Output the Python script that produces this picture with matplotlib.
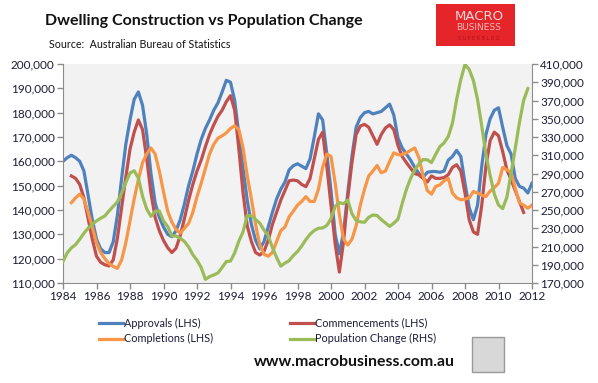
import matplotlib
matplotlib.use("Agg")
import matplotlib.pyplot as plt
import matplotlib.ticker as mticker
from matplotlib.patches import Rectangle
import numpy as np

nan = np.nan

# quarterly observations, 1984 Q1 .. 2012 Q1
start_year = 1984.0
step = 0.25

approvals = [
    160, 161.5, 162.5, 161.5, 160, 156, 146, 136, 128, 124, 122.5, 122.5, 127, 138, 153, 167, 177, 185.5, 188.5,
    183, 171, 155, 143, 137, 133, 130, 129, 131.5, 136, 142.5, 150, 156, 163, 169, 173.5, 177, 181, 184,
    188.5, 193.3, 192.5, 185, 171, 157, 144, 134, 127.5, 124, 127, 133, 139, 144.5, 148.5, 151.5, 156.5, 158.2, 159,
    158, 157, 161, 170, 179.5, 177, 163, 148, 130, 122, 131, 147, 162, 174, 178, 180, 180.5, 179.5, 180,
    180.5, 182, 183.5, 179, 169.5, 165.5, 163, 160.5, 157.5, 155, 153.5, 155.5, 155.8, 155.8, 155.5, 156, 160.5, 162,
    164.5, 162, 151, 141, 136, 142, 158, 171, 177.5, 181, 182, 174, 166.5, 163, 153, 149.7, 149, 147, 151,
]
commencements = [
    nan, nan,
    154, 153, 150.5, 145, 136.5, 128, 121, 118.5, 117.5, 117, 119.5, 128.5, 141, 153.5, 165, 172, 177,
    173, 161, 147, 137, 131.5, 127.5, 124.5, 122.5, 124.3, 129.5, 136.5, 144, 150.5, 156, 160.5, 166, 171, 175, 178.5,
    181, 184.5, 187, 181, 165, 147, 133.5, 127, 122.5, 121.5, 123, 127.5, 134, 139, 144, 148, 152, 152.3, 152,
    150.5, 149.6, 153, 161, 169, 172, 158, 142, 126, 114.5, 127, 145, 159.5, 171, 174.5, 175.2, 174, 170.5, 167,
    171, 173.7, 175, 173, 166.5, 162, 159.5, 157.2, 155, 154.4, 153, 151.5, 154, 153, 153, 153.3, 154.5, 157.5,
    158.6, 156, 147, 136, 131, 130, 142, 158, 168.5, 172, 170.5, 164, 156.5, 152.5, 148, 143.5, 139,
    nan, nan,
]
completions = [
    nan, nan,
    143, 145, 146.5, 144.5, 139, 133, 126.5, 122.5, 120, 118, 116.8, 116, 119.5, 126.5, 135.5, 144.5, 152.5,
    159.5, 163, 165.5, 163, 156, 147.5, 139.5, 135, 132, 130.5, 132.5, 134.5, 139, 145.5, 151, 157, 163, 167, 169.5,
    170.5, 171.7, 173.5, 174.6, 173, 165.5, 154, 144.5, 134, 125.5, 121.8, 121, 122.5, 127, 131.5, 133, 137.2, 139.5, 142,
    143.5, 145.5, 143.5, 143.5, 148.5, 157.5, 163, 162, 151, 138, 128, 125.6, 128, 133.5, 142, 148.5, 154, 156, 158.3,
    155.3, 156, 160, 163.5, 162.7, 162.7, 163.5, 164.5, 165.5, 161.5, 154, 148, 146.5, 149.7, 150.3, 152, 153, 147,
    145, 144.2, 144.5, 145, 147.6, 147, 146, 145.5, 147.8, 149.2, 151, 157.5, 156.5, 155.5, 149, 143, 142, 140.7, 142,
]
population = [
    193.5, 203, 208.5, 212, 218, 224.6, 230, 234.5, 238, 241, 243.5, 249, 254, 259, 268.5, 280, 290.5, 293, 285,
    265, 251, 243, 248.5, 249, 238, 232, 221.5, 221.5, 219, 215.5, 209.5, 201, 195, 187, 174, 177, 178.8, 181,
    187, 193.5, 194, 203, 216, 226, 244, 243.5, 239.5, 235.5, 228, 222, 209, 198, 188.5, 191.8, 194.5, 200, 204.5,
    210.5, 217.5, 223.5, 227.5, 230, 230.3, 233, 240.5, 254, 258, 256.8, 261, 246, 238.5, 237, 236.5, 242, 244.5, 244,
    239.5, 235.8, 232, 235.5, 240, 257, 272.5, 284.5, 294, 300.5, 305.3, 305, 302, 311, 319.5, 323.5, 330.5, 345,
    371, 393, 409.5, 404, 392, 371, 342, 311, 288, 267.5, 255.5, 251.5, 264, 290, 317.5, 346, 370, 383, nan,
]

labels = ["Approvals (LHS)", "Commencements (LHS)", "Completions (LHS)", "Population Change (RHS)"]
colors = ["#4F81BD", "#C0504D", "#F79646", "#9BBB59"]

x = start_year + step * np.arange(len(approvals))
to_num = lambda s: np.array(s, dtype=float) * 1000

plt.rcParams['font.family'] = ['Lato', 'DejaVu Sans']
txt = "#1c1c38"
spine = "#8c8c8c"

fig = plt.figure(figsize=(5.98, 3.83), dpi=100)
ax = fig.add_axes([63 / 598, 1 - 283 / 383, (532 - 63) / 598, (283 - 64) / 383])
ax.set_facecolor("#F2F2F2")
ax2 = ax.twinx()

lw = 2.3
h1, = ax.plot(x, to_num(approvals), color=colors[0], lw=lw, label=labels[0])
h2, = ax.plot(x, to_num(commencements), color=colors[1], lw=lw, label=labels[1])
h3, = ax.plot(x, to_num(completions), color=colors[2], lw=lw, label=labels[2])
h4, = ax2.plot(x, to_num(population), color=colors[3], lw=lw, label=labels[3])

ax.set_xlim(1984, 2012)
ax.set_ylim(110000, 200000)
ax2.set_ylim(170000, 410000)
ax.set_xticks(np.arange(1984, 2013, 2))
ax.set_yticks(np.arange(110000, 200001, 10000))
ax2.set_yticks(np.arange(170000, 410001, 20000))
fmt = mticker.FuncFormatter(lambda v, p: f"{v:,.0f}")
ax.yaxis.set_major_formatter(fmt)
ax2.yaxis.set_major_formatter(fmt)

for a in (ax, ax2):
    a.spines['top'].set_visible(False)
    for s in ('left', 'right', 'bottom'):
        a.spines[s].set_color(spine)
    a.tick_params(colors=spine, labelcolor=txt, labelsize=8.5, length=4, width=1, direction='out')
ax.spines['right'].set_visible(False)
ax2.spines['left'].set_visible(False)
ax2.spines['bottom'].set_visible(False)
ax.tick_params(axis='y', pad=2)
ax2.tick_params(axis='y', pad=2)
ax.tick_params(axis='x', pad=2)

fig.text(45 / 598, 1 - 21 / 383, "Dwelling Construction vs Population Change",
         fontsize=11.5, fontweight='bold', color='#111111', va='center', ha='left')
fig.text(49 / 598, 1 - 45 / 383, "Source:  Australian Bureau of Statistics",
         fontsize=7.7, color='#111111', va='center', ha='left')

# logo block
fig.patches.append(Rectangle((436 / 598, 1 - 46 / 383), 79 / 598, 42 / 383,
                             transform=fig.transFigure, facecolor='#E5252A', edgecolor='none'))
fig.text(479 / 598, 1 - 16 / 383, "MACRO", fontsize=9.5, color='#F6D6D6', ha='center', va='center',
         family=['DejaVu Sans'])
fig.text(479 / 598, 1 - 28 / 383, "BUSINESS", fontsize=6.5, color='#F2B8B8', ha='center', va='center',
         family=['DejaVu Sans'])
fig.text(479 / 598, 1 - 38 / 383, "S U P E R B L O G", fontsize=3.5, color='#B0141A', ha='center', va='center',
         family=['DejaVu Sans'])

fig.legend([h1, h3, h2, h4], [labels[0], labels[2], labels[1], labels[3]], ncol=2,
           loc='center left', bbox_to_anchor=(89 / 598, 1 - 331 / 383), frameon=False,
           fontsize=7.8, handlelength=2.2, handletextpad=0.15, columnspacing=7.05,
           labelspacing=0.45, labelcolor=txt)

fig.text(354 / 598, 1 - 362 / 383, "www.macrobusiness.com.au", fontsize=11.4, fontweight='bold',
         color='#111111', ha='center', va='center')

# wolf badge placeholder
fig.patches.append(Rectangle((472 / 598, 1 - 372 / 383), 32 / 598, 35 / 383,
                             transform=fig.transFigure, facecolor='#d8d8d8', edgecolor='#9a9a9a', lw=1))

fig.savefig("out.png", dpi=100)
